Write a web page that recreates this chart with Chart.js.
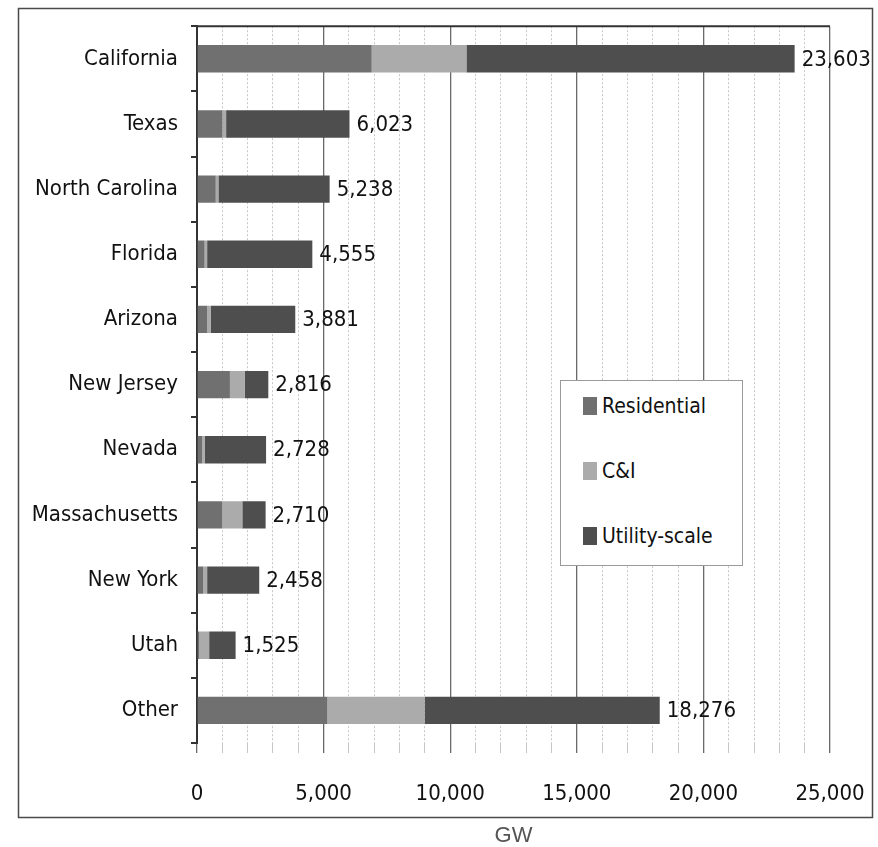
<!DOCTYPE html>
<html>
<head>
<meta charset="utf-8">
<script src="https://cdn.jsdelivr.net/npm/chart.js@4.4.1/dist/chart.umd.min.js"></script>
<style>
  html, body { margin: 0; padding: 0; background: #fff; }
  #wrap { position: relative; width: 878px; height: 847px; }
  #legend {
    position: absolute; left: 560px; top: 380px; width: 183px; height: 186px;
    border: 1px solid #9a9a9a; box-sizing: border-box; background: #fff;
    font-family: "DejaVu Sans Condensed", "Liberation Sans Narrow", sans-serif;
    font-size: 21px; color: #111;
  }
  .item { position: absolute; left: 22px; display: flex; align-items: center; height: 30px; }
  .sw { width: 14px; height: 18px; margin-right: 5px; }
</style>
</head>
<body>
<div id="wrap">
  <canvas id="c" width="878" height="847"></canvas>
  <div id="legend"></div>
</div>
<script>
// Installed solar capacity by state and segment (GW)
const states = ['California', 'Texas', 'North Carolina', 'Florida', 'Arizona', 'New Jersey',
                'Nevada', 'Massachusetts', 'New York', 'Utah', 'Other'];
const residential = [6900, 1000, 740, 300, 400, 1300, 200, 990, 250, 80, 5150];
const commercial  = [3740, 150, 105, 100, 150, 580, 100, 800, 150, 400, 3840];
const utility     = [12963, 4873, 4393, 4155, 3331, 936, 2428, 920, 2058, 1045, 9286];
const seriesNames = ['Residential', 'C&I', 'Utility-scale'];
const seriesColors = ['#707070', '#ababab', '#4e4e4e'];
const axisMax = 25000;
const majorStep = 5000;
const minorStep = 1000;

const FONT = '"DejaVu Sans Condensed", "Liberation Sans Narrow", sans-serif';

// Outer frame and top rule of the plot area
const framePlugin = {
  id: 'frame',
  beforeDraw(chart) {
    const ctx = chart.ctx;
    ctx.save();
    ctx.fillStyle = '#fff';
    ctx.fillRect(0, 0, chart.width, chart.height);
    ctx.strokeStyle = '#4a4a4a';
    ctx.lineWidth = 1.5;
    ctx.strokeRect(18.5, 8.5, 854, 809);
    ctx.restore();
  },
  afterDraw(chart) {
    const { ctx, chartArea } = chart;
    ctx.save();
    ctx.strokeStyle = '#333';
    ctx.lineWidth = 2;
    ctx.beginPath();
    ctx.moveTo(chartArea.left, chartArea.top);
    ctx.lineTo(chartArea.right, chartArea.top);
    ctx.stroke();
    ctx.restore();
  }
};

// Total value written after the end of each stacked bar
const totalsPlugin = {
  id: 'totals',
  afterDatasetsDraw(chart) {
    const ctx = chart.ctx;
    const sets = chart.data.datasets;
    const last = chart.getDatasetMeta(sets.length - 1);
    ctx.save();
    ctx.font = '22px ' + FONT;
    ctx.fillStyle = '#111';
    ctx.textBaseline = 'middle';
    ctx.textAlign = 'left';
    last.data.forEach((bar, i) => {
      const total = sets.reduce((s, d) => s + d.data[i], 0);
      ctx.fillText(total.toLocaleString('en-US'), bar.x + 7, bar.y + 1);
    });
    ctx.restore();
  }
};

const isMajor = (c) => c.tick && c.tick.value % majorStep === 0;

const chart = new Chart(document.getElementById('c'), {
  type: 'bar',
  data: {
    labels: states,
    datasets: [residential, commercial, utility].map((d, i) => ({
      label: seriesNames[i],
      data: d,
      backgroundColor: seriesColors[i],
      borderWidth: 0,
      barPercentage: 0.42,
      categoryPercentage: 1.0
    }))
  },
  options: {
    indexAxis: 'y',
    responsive: false,
    animation: false,
    layout: { padding: { left: 20, right: 48, top: 25, bottom: 0 } },
    plugins: { legend: { display: false }, tooltip: { enabled: false } },
    scales: {
      x: {
        stacked: true,
        min: 0,
        max: axisMax,
        ticks: {
          stepSize: minorStep,
          autoSkip: false,
          maxRotation: 0,
          padding: 28,
          color: '#111',
          font: { family: FONT, size: 22 },
          callback: (v) => (v % majorStep === 0 ? v.toLocaleString('en-US') : '')
        },
        grid: {
          color: (c) => (isMajor(c) ? '#6a6a6a' : '#c6c6c6'),
          lineWidth: (c) => (isMajor(c) ? 1.3 : 1),
          tickLength: 10
        },
        border: {
          display: false,
          dash: (c) => (c.tick && !isMajor(c) ? [2, 2] : [])
        },
        title: {
          display: true,
          text: 'GW',
          color: '#555',
          font: { family: '"Liberation Sans", sans-serif', size: 22, lineHeight: 1 },
          padding: { top: 0, bottom: 0 }
        },
        afterFit: (s) => { s.height = 104; s.paddingRight = 0; }
      },
      y: {
        stacked: true,
        ticks: { color: '#111', font: { family: FONT, size: 22 }, padding: 13 },
        grid: { drawOnChartArea: false, color: '#333', lineWidth: 2, tickLength: 6, offset: true },
        border: { color: '#333', width: 2 },
        afterFit: (s) => { s.width = 177; }
      }
    }
  },
  plugins: [framePlugin, totalsPlugin]
});

// Legend box built from the chart's datasets
const legend = document.getElementById('legend');
const rowTops = [10, 75, 140];
chart.data.datasets.forEach((ds, i) => {
  const item = document.createElement('div');
  item.className = 'item';
  item.style.top = rowTops[i] + 'px';
  const sw = document.createElement('span');
  sw.className = 'sw';
  sw.style.background = ds.backgroundColor;
  const txt = document.createElement('span');
  txt.textContent = ds.label;
  item.appendChild(sw);
  item.appendChild(txt);
  legend.appendChild(item);
});
</script>
</body>
</html>
